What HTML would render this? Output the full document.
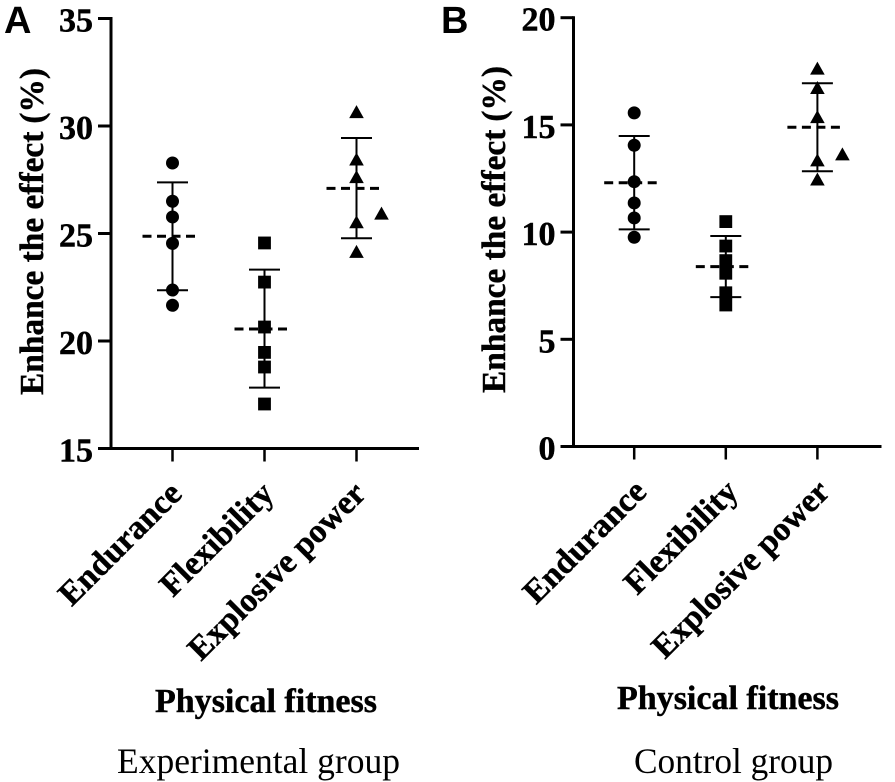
<!DOCTYPE html>
<html>
<head>
<meta charset="utf-8">
<title>Enhance the effect by physical fitness</title>
<style>
html,body{margin:0;padding:0;background:#fff;width:895px;height:782px;overflow:hidden}
svg{display:block}
text{fill:#000;font-family:"Liberation Serif","Noto Serif CJK SC",serif}
.bold{font-weight:bold;stroke:#000;stroke-width:0.45px}
</style>
</head>
<body>
<svg id="figure" width="895" height="782" viewBox="0 0 895 782" xmlns="http://www.w3.org/2000/svg">
  <g id="plots" style="filter:blur(0.35px)"></g>
  <text x="4" y="33" style="font-family:'Liberation Sans',sans-serif;font-weight:bold;font-size:38px">A</text>
  <text x="441" y="33" style="font-family:'Liberation Sans',sans-serif;font-weight:bold;font-size:38px">B</text>
  <text class="bold" x="155" y="712" font-size="34" textLength="222" lengthAdjust="spacingAndGlyphs">Physical fitness</text>
  <text class="bold" x="617" y="709" font-size="34" textLength="222" lengthAdjust="spacingAndGlyphs">Physical fitness</text>
  <text x="117" y="773" font-size="36" textLength="283" lengthAdjust="spacingAndGlyphs">Experimental group</text>
  <text x="634" y="773" font-size="36" textLength="199" lengthAdjust="spacingAndGlyphs">Control group</text>
  <text class="bold" transform="translate(43 395) rotate(-90)" font-size="33.4">Enhance the effect<tspan dx="8">(%)</tspan></text>
  <text class="bold" transform="translate(505 393) rotate(-90)" font-size="33.4">Enhance the effect<tspan dx="8">(%)</tspan></text>
</svg>
<script>
var categories = ['Endurance', 'Flexibility', 'Explosive power'];
var markerShapes = ['circle', 'square', 'triangle'];

var aTicks = [15, 20, 25, 30, 35];
var aEndurance = [28.28, 26.5, 25.77, 24.54, 22.37, 21.66];
var aFlexibility = [24.56, 22.74, 20.65, 19.47, 18.79, 17.07];
var aExplosive = [30.62, 28.42, 27.6, 25.9, 25.5, 24.12];
var aMeans = [24.87, 20.56, 27.1];
var aUpper = [27.38, 23.32, 29.44];
var aLower = [22.36, 17.83, 24.78];

var bTicks = [0, 5, 10, 15, 20];
var bEndurance = [15.56, 14.05, 12.35, 11.36, 10.66, 9.76];
var bFlexibility = [10.49, 9.35, 8.67, 8.08, 7.17, 6.6];
var bExplosive = [17.6, 16.7, 15.34, 13.6, 13.32, 12.43];
var bMeans = [12.3, 8.39, 14.89];
var bUpper = [14.48, 9.82, 16.94];
var bLower = [10.13, 6.97, 12.84];

// 1 = the point is nudged sideways by the swarm layout
var aSwarm = [[0,0,0,0,0,0],[0,0,0,0,0,0],[0,0,0,1,0,0]];
var bSwarm = [[0,0,0,0,0,0],[0,0,0,0,0,0],[0,0,0,1,0,0]];

var NS = 'http://www.w3.org/2000/svg';
var root = document.getElementById('plots');

function make(tag, parent, attrs) {
  var el = document.createElementNS(NS, tag);
  for (var k in attrs) el.setAttribute(k, attrs[k]);
  parent.appendChild(el);
  return el;
}

function drawPanel(p) {
  var yScale = function (v) {
    return p.yBottom + (v - p.ticks[0]) / (p.ticks[p.ticks.length - 1] - p.ticks[0]) * (p.yTop - p.yBottom);
  };
  var xScale = function (i) { return p.xFirst + i * p.xStep; };

  var panel = make('g', root, {});
  
  

  var yAxis = make('line', panel, {x1: p.xAxis, x2: p.xAxis, y1: p.yTop - 1.5, y2: p.yBottom + 1.5, stroke: '#000', 'stroke-width': 3});
  
  

  var xAxis = make('line', panel, {x1: p.xAxis - 13, x2: p.xAxis + 308, y1: p.yBottom, y2: p.yBottom, stroke: '#000', 'stroke-width': 3});
  
  

  p.ticks.forEach(function (t) {
    var y = yScale(t);
    var tick = make('line', panel, {x1: p.xAxis - 13, x2: p.xAxis, y1: y, y2: y, stroke: '#000', 'stroke-width': 3});
    
    
    var label = make('text', panel, {x: p.xAxis - 18, y: y + 13, 'text-anchor': 'end', 'font-size': 34, 'class': 'bold'});
    label.textContent = t;
    
    
  });

  categories.forEach(function (name, c) {
    var x = xScale(c);
    var tick = make('line', panel, {x1: x, x2: x, y1: p.yBottom, y2: p.yBottom + 13, stroke: '#000', 'stroke-width': 2.5});
    
    

    var label = make('text', panel, {'text-anchor': 'end', 'font-size': 33.5, 'class': 'bold',
      transform: 'translate(' + (x + 11 + p.labelDx) + ' ' + (p.yBottom + 47) + ') rotate(-45)'});
    label.textContent = name;
    
    

    var up = yScale(p.upper[c]), lo = yScale(p.lower[c]), m = yScale(p.means[c]);

    var stem = make('line', panel, {x1: x, x2: x, y1: up, y2: lo, stroke: '#000', 'stroke-width': 2});
    
    

    var capTop = make('line', panel, {x1: x - 15.5, x2: x + 15.5, y1: up, y2: up, stroke: '#000', 'stroke-width': 2});
    
    

    var capBottom = make('line', panel, {x1: x - 15.5, x2: x + 15.5, y1: lo, y2: lo, stroke: '#000', 'stroke-width': 2});
    
    

    var mean = make('line', panel, {x1: x - 30, x2: x + 25, y1: m, y2: m, stroke: '#000', 'stroke-width': 3, 'stroke-dasharray': '9 5.5'});
    
    

    p.series[c].forEach(function (v, j) {
      var px = x + p.swarm[c][j] * 25;
      var py = yScale(v);
      var mark;
      if (markerShapes[c] === 'circle') {
        mark = make('circle', panel, {cx: px, cy: py, r: 6.5, fill: '#000'});
      } else if (markerShapes[c] === 'square') {
        mark = make('rect', panel, {x: px - 6.4, y: py - 6.4, width: 12.8, height: 12.8, fill: '#000'});
      } else {
        mark = make('polygon', panel, {points: px + ',' + (py - 7.5) + ' ' + (px + 7.3) + ',' + (py + 5.5) + ' ' + (px - 7.3) + ',' + (py + 5.5), fill: '#000'});
      }
      
      
    });
  });
}

drawPanel({id: 'a', ticks: aTicks, yTop: 18.5, yBottom: 448.5, xAxis: 111, xFirst: 172.5, xStep: 92, labelDx: 0,
  series: [aEndurance, aFlexibility, aExplosive], means: aMeans, upper: aUpper, lower: aLower, swarm: aSwarm});
drawPanel({id: 'b', ticks: bTicks, yTop: 17.7, yBottom: 446.5, xAxis: 573.5, xFirst: 634.2, xStep: 91.6, labelDx: 3,
  series: [bEndurance, bFlexibility, bExplosive], means: bMeans, upper: bUpper, lower: bLower, swarm: bSwarm});
</script>
</body>
</html>
